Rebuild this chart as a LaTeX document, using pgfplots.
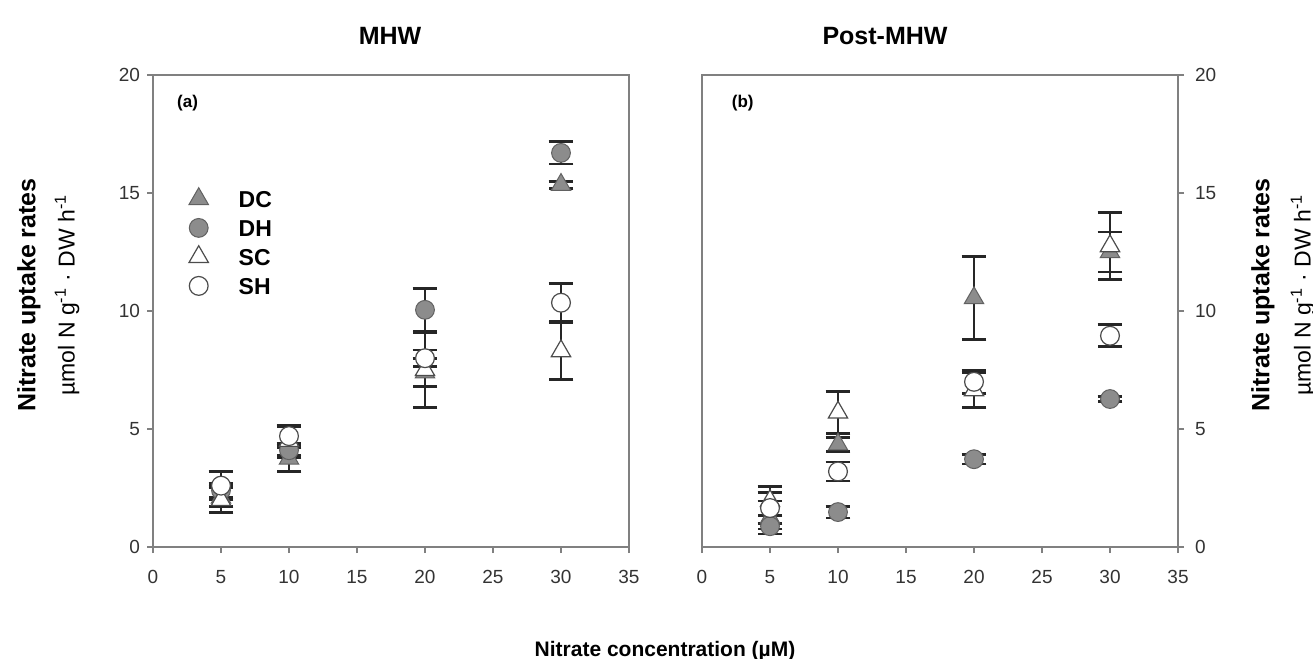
\documentclass[border=0pt]{standalone}
\usepackage{fontspec}
\setmainfont{Liberation Sans}
\usepackage{pgfplots}
\usepackage{pgfplotstable}
\pgfplotsset{compat=1.18}

% Nitrate uptake rates: mean and error for each treatment
\pgfplotstableread{
x   dc    dce   dh    dhe   sc    sce   sh    she
5   2.10  0.40  2.40  0.30  2.00  0.55  2.60  0.60
10  3.75  0.55  4.10  0.30  4.50  0.60  4.70  0.47
20  7.40  0.60  10.05 0.92  7.50  1.60  8.00  0.35
30  15.35 0.15  16.70 0.47  8.30  1.20  10.35 0.80
}\mhw
\pgfplotstableread{
x   dc    dce   dh    dhe   sc    sce   sh    she
5   1.25  0.70  0.88  0.12  1.95  0.60  1.65  0.65
10  4.35  0.30  1.48  0.25  5.70  0.90  3.20  0.40
20  10.55 1.77  3.72  0.20  6.65  0.75  7.00  0.50
30  12.50 0.85  6.27  0.12  12.75 1.43  8.95  0.47
}\post

\pgfplotsset{
  panel/.style={
    scale only axis, width=238pt, height=236pt, anchor=south west,
    xmin=0, xmax=35, ymin=0, ymax=20,
    xtick={0,5,...,35}, ytick={0,5,...,20},
    tick align=outside, major tick length=3pt, xtick pos=bottom,
    axis line style={black!50, line width=0.6pt},
    tick style={black!50, line width=0.6pt},
    tick label style={font=\fontsize{9.5}{10}\selectfont, text=black!80},
    xticklabel style={yshift=-5pt},
    /pgf/number format/assume math mode=true,
    clip=false,
  },
  % error bars only: the point marks are made invisible, markers come later
  ebars/.style={
    forget plot, black!85, only marks, mark=*,
    mark options={draw=none, fill=none},
    error bars/.cd, y dir=both, y explicit,
    error bar style={draw=black!85, line width=1pt},
    error mark options={rotate=90, draw=black!85, line width=1.4pt, mark size=6.2pt},
  },
  dgrey/.style={only marks, mark options={fill=black!45, draw=black!62, line width=0.5pt}},
  swhite/.style={only marks, mark options={fill=white, draw=black!70, line width=0.6pt}},
  tri/.style={mark=triangle*, mark size=5.6pt},
  circ/.style={mark=*, mark size=4.7pt},
}

\begin{document}
\begin{tikzpicture}
\useasboundingbox (0,0) rectangle (656.5pt,329.5pt);

% ---- MHW ----
\begin{axis}[panel, at={(76.5pt,56pt)}, ytick pos=left,
  legend style={draw=none, fill=none, at={(rel axis cs:0.07,0.768)}, anchor=north west,
    font=\bfseries\fontsize{11.5}{12}\selectfont, row sep=0.5pt, inner sep=0pt,
    nodes={inner sep=1pt, text height=8.5pt, text depth=0pt}},
  legend cell align=left,
  legend image code/.code={\path[draw=none, fill=none] (-6pt,-7pt) rectangle (19pt,7pt); \draw[#1] plot coordinates {(0pt,0pt)};},
]
\addplot[ebars] table[x=x, y=dc, y error=dce] {\mhw};
\addplot[ebars] table[x=x, y=dh, y error=dhe] {\mhw};
\addplot[ebars] table[x=x, y=sc, y error=sce] {\mhw};
\addplot[ebars] table[x=x, y=sh, y error=she] {\mhw};
\addplot[dgrey, tri] table[x=x, y=dc] {\mhw};
\addlegendentry{DC}
\addplot[dgrey, circ] table[x=x, y=dh] {\mhw};
\addlegendentry{DH}
\addplot[swhite, tri] table[x=x, y=sc] {\mhw};
\addlegendentry{SC}
\addplot[swhite, circ] table[x=x, y=sh] {\mhw};
\addlegendentry{SH}
\node[anchor=west, font=\bfseries\fontsize{8.5}{10}\selectfont] at (rel axis cs:0.036,0.94) {(a)};
\end{axis}

% ---- Post-MHW ----
\begin{axis}[panel, at={(351pt,56pt)}, ytick pos=right, yticklabel pos=right,
  yticklabel style={xshift=2pt}]
\addplot[ebars] table[x=x, y=dc, y error=dce] {\post};
\addplot[ebars] table[x=x, y=dh, y error=dhe] {\post};
\addplot[ebars] table[x=x, y=sc, y error=sce] {\post};
\addplot[ebars] table[x=x, y=sh, y error=she] {\post};
\addplot[dgrey, tri] table[x=x, y=dc] {\post};
\addplot[dgrey, circ] table[x=x, y=dh] {\post};
\addplot[swhite, tri] table[x=x, y=sc] {\post};
\addplot[swhite, circ] table[x=x, y=sh] {\post};
\node[anchor=west, font=\bfseries\fontsize{8.5}{10}\selectfont] at (rel axis cs:0.048,0.94) {(b)};
\end{axis}

% titles and axis labels
\node[font=\bfseries\fontsize{12.5}{14}\selectfont] at (195pt,311.5pt) {MHW};
\node[font=\bfseries\fontsize{12.5}{14}\selectfont] at (442.5pt,311.5pt) {Post-MHW};
\node[font=\bfseries\fontsize{10.5}{12}\selectfont] at (332.5pt,4pt) {Nitrate concentration (µM)};

\node[rotate=90, font=\bfseries\fontsize{12.5}{14}\selectfont] at (14.5pt,182pt) {Nitrate uptake rates};
\node[rotate=90, font=\fontsize{11.5}{13}\selectfont] at (33.5pt,182pt) {µmol N g\textsuperscript{-1} · DW h\textsuperscript{-1}};
\node[rotate=90, font=\bfseries\fontsize{12.5}{14}\selectfont] at (631.5pt,182pt) {Nitrate uptake rates};
\node[rotate=90, font=\fontsize{11.5}{13}\selectfont] at (651.5pt,182pt) {µmol N g\textsuperscript{-1} · DW h\textsuperscript{-1}};
\end{tikzpicture}
\end{document}
